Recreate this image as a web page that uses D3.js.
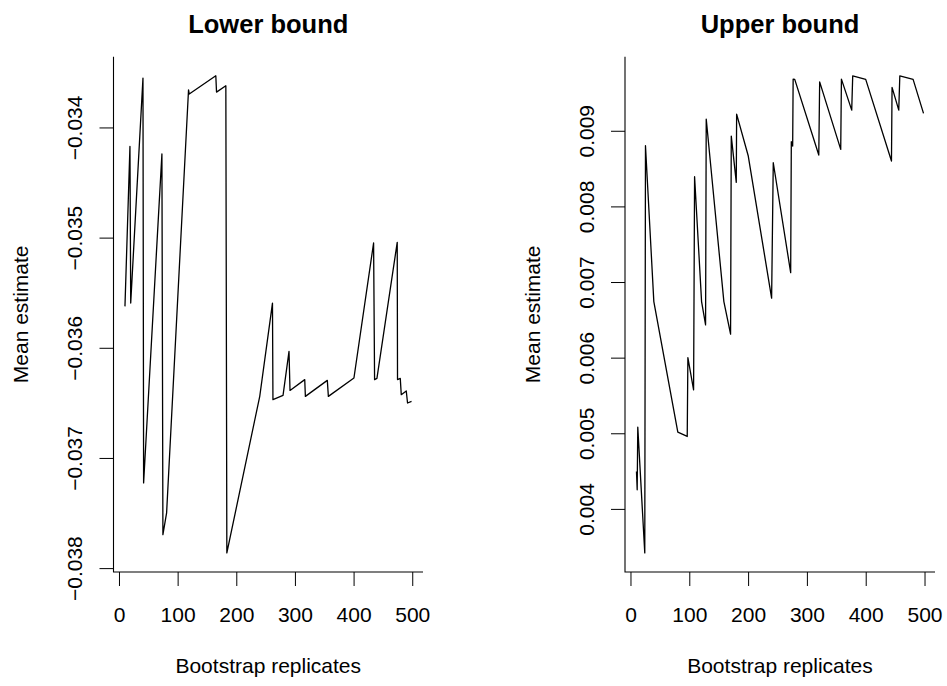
<!DOCTYPE html>
<html>
<head>
<meta charset="utf-8">
<script src="https://cdn.jsdelivr.net/npm/d3@7"></script>
<style>
  html, body { margin: 0; padding: 0; background: #fff; }
  svg { display: block; font-family: "Liberation Sans", Arial, Helvetica, sans-serif; }
</style>
</head>
<body>
<script>
// ---- data ----
const lowerX = [10.2, 18.7, 20.0, 40.9, 42.0, 73.2, 74.9, 81.2, 118.6, 119.8, 165.1, 166.3, 182.2, 183.9,
  240.0, 261.7, 262.5, 279.7, 289.9, 291.6, 316.7, 317.8, 355.2, 357.0, 400.6, 434.1, 435.8, 439.8,
  474.4, 474.9, 479.6, 481.3, 489.8, 492.0, 498.8];
const lowerY = [-0.035624, -0.034172, -0.035594, -0.033552, -0.037227, -0.034241, -0.037696, -0.037499,
  -0.033658, -0.033697, -0.033531, -0.033679, -0.033622, -0.037862, -0.036441, -0.035594, -0.036471,
  -0.036432, -0.036033, -0.036387, -0.036289, -0.036441, -0.036296, -0.036441, -0.036274, -0.035049,
  -0.036289, -0.036278, -0.035043, -0.036289, -0.036278, -0.036426, -0.036392, -0.036501, -0.036486];

const upperX = [10.2, 11.4, 12.4, 24.3, 25.5, 39.7, 80.5, 96.5, 97.6, 107.3, 109.0, 120.9, 127.7, 128.8,
  158.8, 170.2, 171.4, 179.9, 180.5, 200.3, 240.0, 242.8, 272.4, 273.5, 275.8, 276.6, 279.3, 320.2,
  321.7, 357.5, 358.7, 376.2, 377.9, 400.0, 443.8, 444.8, 456.2, 458.0, 480.6, 498.3];
const upperY = [0.004495, 0.004253, 0.005081, 0.003418, 0.008802, 0.006741, 0.005016, 0.004958, 0.006001,
  0.005575, 0.008392, 0.006741, 0.006433, 0.009155, 0.006741, 0.006310, 0.008930, 0.008318, 0.009221,
  0.008666, 0.006786, 0.008577, 0.007124, 0.008855, 0.008798, 0.009683, 0.009679, 0.008679, 0.009647,
  0.008754, 0.009683, 0.009273, 0.009726, 0.009679, 0.008600, 0.009573, 0.009273, 0.009727, 0.009679,
  0.009230];

const xTicks = [0, 100, 200, 300, 400, 500];
const lowerTicks = [-0.038, -0.037, -0.036, -0.035, -0.034];
const upperTicks = [0.004, 0.005, 0.006, 0.007, 0.008, 0.009];
const titles = ["Lower bound", "Upper bound"];
const xLabel = "Bootstrap replicates";
const yLabel = "Mean estimate";

// ---- layout ----
const W = 947, H = 686;
const svg = d3.select("body").append("svg").attr("width", W).attr("height", H);
svg.append("rect").attr("width", W).attr("height", H).attr("fill", "#fff");

const FS = 21;
const panels = [
  { xs: lowerX, ys: lowerY, ticks: lowerTicks, title: titles[0], left: 113.5, right: 423 },
  { xs: upperX, ys: upperY, ticks: upperTicks, title: titles[1], left: 625, right: 935 }
];
const plotTop = 56.7, plotBottom = 572;

function rExt(ext) { const d = (ext[1] - ext[0]) * 0.04; return [ext[0] - d, ext[1] + d]; }
function fmt(v) { return (v < 0 ? "\u2212" : "") + Math.abs(v).toFixed(3); }

panels.forEach(p => {
  const x = d3.scaleLinear().domain(rExt(d3.extent(p.xs))).range([p.left, p.right]);
  const y = d3.scaleLinear().domain(rExt(d3.extent(p.ys))).range([plotBottom, plotTop]);
  const g = svg.append("g");

  // x axis
  g.append("g").attr("transform", `translate(0,${plotBottom})`)
    .call(d3.axisBottom(x).tickValues(xTicks).tickSize(14).tickSizeOuter(0).tickFormat(d3.format("d")))
    .call(a => a.select(".domain").remove())
    .call(a => a.selectAll("line").attr("stroke", "#000").attr("stroke-width", 1))
    .call(a => a.selectAll("text").attr("y", 49.7).attr("dy", null)
      .attr("font-size", FS).attr("font-family", "Liberation Sans, Arial, sans-serif").attr("fill", "#000"));

  // y axis
  g.append("g").attr("transform", `translate(${p.left},0)`)
    .call(d3.axisLeft(y).tickValues(p.ticks).tickSize(14).tickSizeOuter(0).tickFormat(fmt))
    .call(a => a.select(".domain").remove())
    .call(a => a.selectAll("line").attr("stroke", "#000").attr("stroke-width", 1))
    .call(a => a.selectAll("text").attr("x", 0).attr("y", -31.5).attr("dy", null)
      .attr("transform", "rotate(-90)").attr("text-anchor", "middle")
      .attr("font-size", FS).attr("font-family", "Liberation Sans, Arial, sans-serif").attr("fill", "#000"));

  // L-shaped box
  g.append("path")
    .attr("d", `M${p.left},${plotTop}V${plotBottom}H${p.right}`)
    .attr("fill", "none").attr("stroke", "#000").attr("stroke-width", 1.1);

  // data line
  const line = d3.line().x((d, i) => x(p.xs[i])).y(d => y(d));
  g.append("path").datum(p.ys).attr("d", line)
    .attr("fill", "none").attr("stroke", "#000").attr("stroke-width", 1.3)
    .attr("stroke-linejoin", "round");

  // title
  g.append("text").attr("x", (p.left + p.right) / 2).attr("y", 33)
    .attr("text-anchor", "middle").attr("font-weight", "bold").attr("font-size", 25.5)
    .text(p.title);

  // x label
  g.append("text").attr("x", (p.left + p.right) / 2).attr("y", 673)
    .attr("text-anchor", "middle").attr("font-size", FS).text(xLabel);

  // y label
  g.append("text")
    .attr("transform", `translate(${p.left - 85.5},${(plotTop + plotBottom) / 2}) rotate(-90)`)
    .attr("text-anchor", "middle").attr("font-size", FS).text(yLabel);
});
</script>
</body>
</html>
